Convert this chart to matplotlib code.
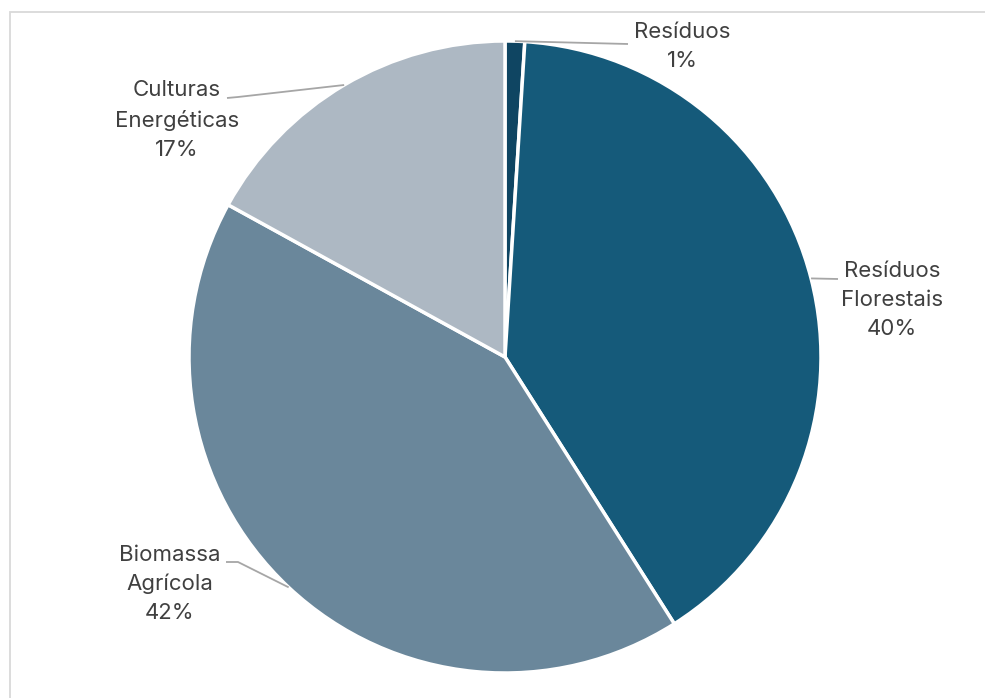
import numpy as np
import matplotlib
matplotlib.use("Agg")
import matplotlib.pyplot as plt
from matplotlib.patches import Rectangle

# Data
categories = ["Resíduos", "Resíduos\nFlorestais", "Biomassa\nAgrícola", "Culturas\nEnergéticas"]
shares = [1, 40, 42, 17]
colors = ["#0f4562", "#155a7a", "#6a879b", "#adb8c3"]

W, H = 985, 698
fig = plt.figure(figsize=(W / 100, H / 100), dpi=100)
ax = fig.add_axes([0, 0, 1, 1])

# Chart frame (top and left edges visible)
ax.add_patch(Rectangle((10, -20), W + 20, H - 12 + 20, fill=False,
                       edgecolor="#d9d9d9", linewidth=1.3))

cx, cy, r = 505, H - 357, 316
wedges, _ = ax.pie(shares, colors=colors, startangle=90, counterclock=False,
                   center=(cx, cy), radius=r, frame=True,
                   wedgeprops=dict(edgecolor="white", linewidth=2.5))
ax.set_xlim(0, W)
ax.set_ylim(0, H)
ax.set_aspect("auto")
ax.axis("off")

# Label anchors: (text centre x, first line centre y, leader-line elbow points)
label_layout = [
    (682, 32, [(628, 44)]),
    (892, 271, [(838, 279)]),
    (170, 555, [(238, 562), (226, 562)]),
    (177, 91, [(238, 97), (227, 98)]),
]
line_step = 29

total = sum(shares)
cum = 0
for cat, val, (tx, ty, pts) in zip(categories, shares, label_layout):
    mid = (cum + val / 2) / total * 2 * np.pi
    cum += val
    ex = cx + r * np.sin(mid)
    ey = cy + r * np.cos(mid)
    xs = [ex] + [p[0] for p in pts]
    ys = [ey] + [H - p[1] for p in pts]
    ax.plot(xs, ys, color="#a6a6a6", linewidth=1.3, solid_capstyle="butt")
    text = f"{cat}\n{val}%"
    n_lines = text.count("\n") + 1
    yc = ty + (n_lines - 1) * line_step / 2
    ax.text(tx, H - yc, text, ha="center", va="center",
            fontsize=16, color="#404040", family=["Inter", "DejaVu Sans"],
            linespacing=1.55)

fig.savefig("out.png", dpi=100)
